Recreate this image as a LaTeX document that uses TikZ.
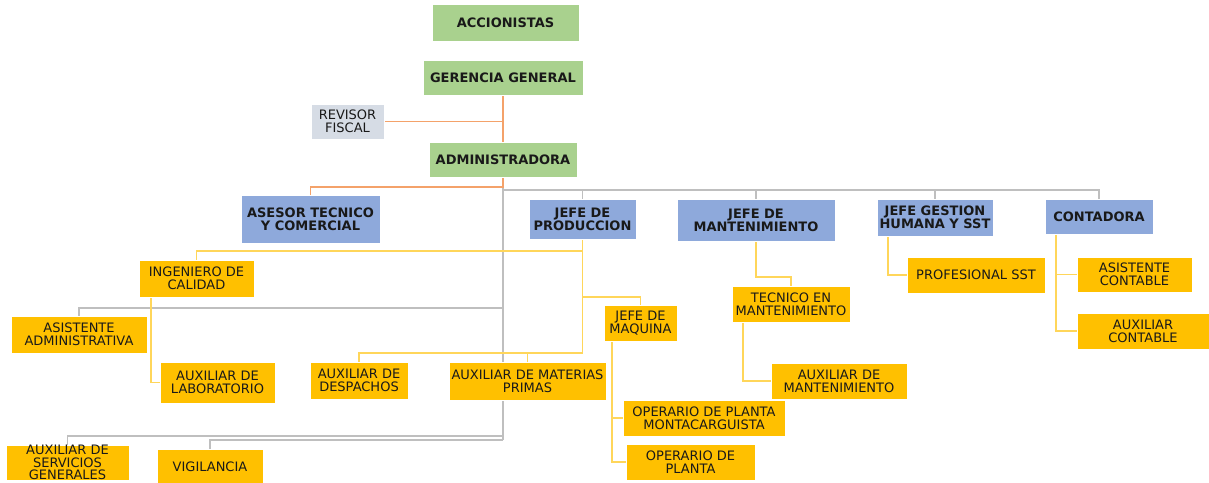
\documentclass[tikz,border=0pt]{standalone}
\usepackage{fontspec}
\setmainfont{DejaVu Sans}
\usetikzlibrary{backgrounds}
\definecolor{gfill}{RGB}{169,209,142}
\definecolor{bfill}{RGB}{142,169,219}
\definecolor{yfill}{RGB}{255,192,0}
\definecolor{rfill}{RGB}{214,220,229}
\definecolor{oline}{RGB}{244,162,106}
\definecolor{yline}{RGB}{255,214,90}
\definecolor{gline}{RGB}{191,191,191}
\definecolor{txt}{RGB}{25,25,25}
\newcommand\bx[7]{\node[#1, minimum width={#4pt-#2pt}, minimum height={#5pt-#3pt}] (#6) at ({(#2+#4)/2},{(#3+#5)/2}) {#7};}
\begin{document}
\begin{tikzpicture}[x=1pt,y=-1pt,
  base/.style={inner sep=0pt, outer sep=0pt, align=center, text=txt, draw=white, line width=0.6pt, font=\fontsize{13}{12.8}\selectfont},
  gbox/.style={base, fill=gfill, font=\fontsize{13}{12.8}\selectfont\bfseries},
  bbox/.style={base, fill=bfill, font=\fontsize{13}{12.8}\selectfont\bfseries},
  ybox/.style={base, fill=yfill},
  rbox/.style={base, fill=rfill},
  ol/.style={draw=oline, line width=1.4pt},
  yl/.style={draw=yline, line width=1.3pt},
  gl/.style={draw=gline, line width=1.6pt}]
\useasboundingbox (0,0) rectangle (1209,482);
\bx{gbox}{432}{4}{579}{41}{acc}{ACCIONISTAS}
\bx{gbox}{423}{60}{583}{95}{gg}{GERENCIA GENERAL}
\bx{gbox}{429}{142}{577}{177}{adm}{ADMINISTRADORA}
\bx{rbox}{311}{104}{384}{139}{rev}{REVISOR\\FISCAL}
\bx{bbox}{241}{195}{380}{243}{ase}{ASESOR TECNICO\\Y COMERCIAL}
\bx{bbox}{529}{199}{636}{239}{jp}{JEFE DE\\PRODUCCION}
\bx{bbox}{677}{199}{835}{241}{jm}{JEFE DE\\MANTENIMIENTO}
\bx{bbox}{877}{199}{993}{236}{jg}{JEFE GESTION\\HUMANA Y SST}
\bx{bbox}{1045}{199}{1153}{234}{cont}{CONTADORA}
\bx{ybox}{139}{260}{254}{297}{ing}{INGENIERO DE\\CALIDAD}
\bx{ybox}{11}{316}{147}{353}{asa}{ASISTENTE\\ADMINISTRATIVA}
\bx{ybox}{160}{362}{275}{403}{lab}{AUXILIAR DE\\LABORATORIO}
\bx{ybox}{310}{362}{408}{399}{desp}{AUXILIAR DE\\DESPACHOS}
\bx{ybox}{449}{362}{606}{400}{mat}{AUXILIAR DE MATERIAS\\PRIMAS}
\bx{ybox}{604}{305}{677}{341}{maq}{JEFE DE\\MAQUINA}
\bx{ybox}{623}{400}{785}{436}{opm}{OPERARIO DE PLANTA\\MONTACARGUISTA}
\bx{ybox}{626}{444}{755}{480}{opp}{OPERARIO DE\\PLANTA}
\bx{ybox}{732}{286}{850}{322}{tec}{TECNICO EN\\MANTENIMIENTO}
\bx{ybox}{771}{363}{907}{399}{aum}{AUXILIAR DE\\MANTENIMIENTO}
\bx{ybox}{907}{257}{1045}{293}{prof}{PROFESIONAL SST}
\bx{ybox}{1077}{257}{1192}{292}{asc}{ASISTENTE\\CONTABLE}
\bx{ybox}{1077}{313}{1209}{349}{auc}{AUXILIAR\\CONTABLE}
\bx{ybox}{6}{445}{129}{480}{serv}{AUXILIAR DE\\SERVICIOS\\GENERALES}
\bx{ybox}{157}{449}{263}{485}{vig}{VIGILANCIA}
\begin{scope}[on background layer]
\draw[ol] (gg.south) -- (adm.north);
\draw[ol] (rev.east) -- (rev.east -| gg.south);
\draw[gl] (adm.south |- 0,187) -- (adm.south |- 0,440);
\draw[gl] (adm.south |- 0,190) -| (cont.north);
\draw[gl] (adm.south |- 0,190) -| (jp.north);
\draw[gl] (adm.south |- 0,190) -| (jm.north);
\draw[gl] (adm.south |- 0,190) -| (jg.north);
\draw[gl] (adm.south |- 0,308) -| (asa.north);
\draw[gl] (adm.south |- 0,436) -| (serv.north);
\draw[gl] (adm.south |- 0,440) -| (vig.north);
\draw[ol] (adm.south) -- (adm.south |- 0,187) -| (ase.north);
\draw[yl] (jp.south) -- (jp.south |- 0,353) -| (desp.north);
\draw[yl] (jp.south |- 0,353) -| (mat.north);
\draw[yl] (jp.south |- 0,251) -| (ing.north);
\draw[yl] (jp.south |- 0,297) -| (maq.north);
\draw[yl] ([xshift=12pt]ing.south west) |- (lab.west);
\draw[yl] ([xshift=8pt]maq.south west) |- (opp.west);
\draw[yl] ([xshift=8pt]maq.south west) |- (opm.west);
\draw[yl] (jm.south) -- (jm.south |- 0,277) -| (tec.north);
\draw[yl] ([xshift=11pt]tec.south west) |- (aum.west);
\draw[yl] ([xshift=11pt]jg.south west) |- (prof.west);
\draw[yl] ([xshift=11pt]cont.south west) |- (asc.west);
\draw[yl] ([xshift=11pt]cont.south west) |- (auc.west);
\end{scope}
\end{tikzpicture}
\end{document}
